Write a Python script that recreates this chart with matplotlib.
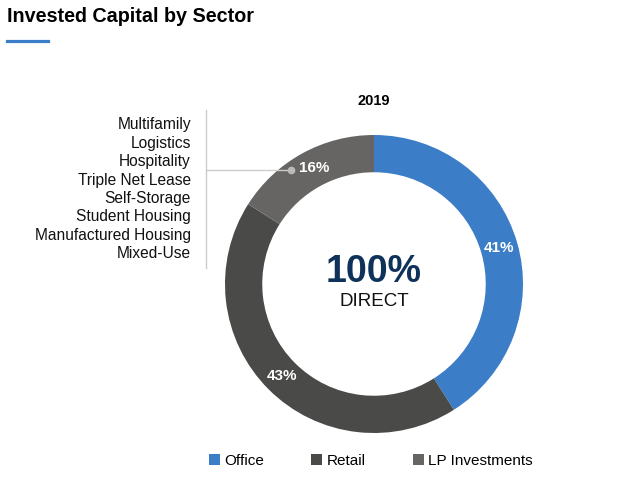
import matplotlib.pyplot as plt
from matplotlib.patches import Patch
from matplotlib.lines import Line2D

plt.rcParams['font.family'] = ['Liberation Sans', 'DejaVu Sans']

# data
sectors = ['Office', 'Retail', 'LP Investments']
shares = [41, 43, 16]
colors = ['#3C7DC8', '#4A4A48', '#666563']
lp_breakdown = ['Multifamily', 'Logistics', 'Hospitality', 'Triple Net Lease',
                'Self-Storage', 'Student Housing', 'Manufactured Housing', 'Mixed-Use']
year = '2019'
W, H = 624, 497

fig = plt.figure(figsize=(W / 100, H / 100), dpi=100)

# title + accent bar
fig.text(7 / W, 1 - 17 / H, 'Invested Capital by Sector', fontsize=14.2,
         fontweight='bold', va='center', ha='left')
fig.add_artist(Line2D([7 / W, 48 / W], [1 - 41 / H, 1 - 41 / H],
                      color='#3C7DC8', lw=2.3, transform=fig.transFigure))

# donut
cx, cy, r = 374, 284, 149
ax = fig.add_axes([(cx - r) / W, (H - cy - r) / H, 2 * r / W, 2 * r / H])
wedges, _, autotexts = ax.pie(
    shares, colors=colors, startangle=90, counterclock=False,
    autopct='%d%%', pctdistance=0.875,
    wedgeprops=dict(width=0.25, edgecolor='none'),
    textprops=dict(color='white', fontweight='bold', fontsize=11))
ax.set_xlim(-1, 1)
ax.set_ylim(-1, 1)
ax.set_aspect('equal')

# shift the 16% label a bit to the right so the dot can sit beside it
lp_txt = autotexts[2]
x0, y0 = lp_txt.get_position()
lp_txt.set_position((x0 + 0.02, y0 + 0.01))

ax.text(0, 0.08, '100%', ha='center', va='center', fontsize=27,
        fontweight='bold', color='#0E3259')
ax.text(0, -0.12, 'DIRECT', ha='center', va='center', fontsize=13.5, color='#111111')
fig.text(cx / W, 1 - 101 / H, year, ha='center', va='center', fontsize=10.5,
         fontweight='bold')

# LP breakdown list with leader line
for i, name in enumerate(lp_breakdown):
    fig.text(191 / W, 1 - (125 + i * 18.4) / H, name, ha='right', va='center',
             fontsize=11.2, color='#111111')
fig.add_artist(Line2D([206 / W, 206 / W], [1 - 110 / H, 1 - 268 / H],
                      color='#CCCCCC', lw=1, transform=fig.transFigure))
fig.add_artist(Line2D([206 / W, 291 / W], [1 - 170 / H, 1 - 170 / H],
                      color='#CCCCCC', lw=1, transform=fig.transFigure))
fig.add_artist(Line2D([291 / W], [1 - 170 / H], marker='o', markersize=4.5,
                      color='#BBBBBB', transform=fig.transFigure))

# legend
handles = [Patch(facecolor=c, edgecolor='none') for c in colors]
fig.legend(handles, sectors, loc='center', bbox_to_anchor=(371 / W, 1 - 461 / H),
           ncol=3, frameon=False, fontsize=11, handlelength=0.7, handleheight=0.7,
           handletextpad=0.3, columnspacing=3.1)

fig.savefig('out.png', dpi=100, facecolor='white')
